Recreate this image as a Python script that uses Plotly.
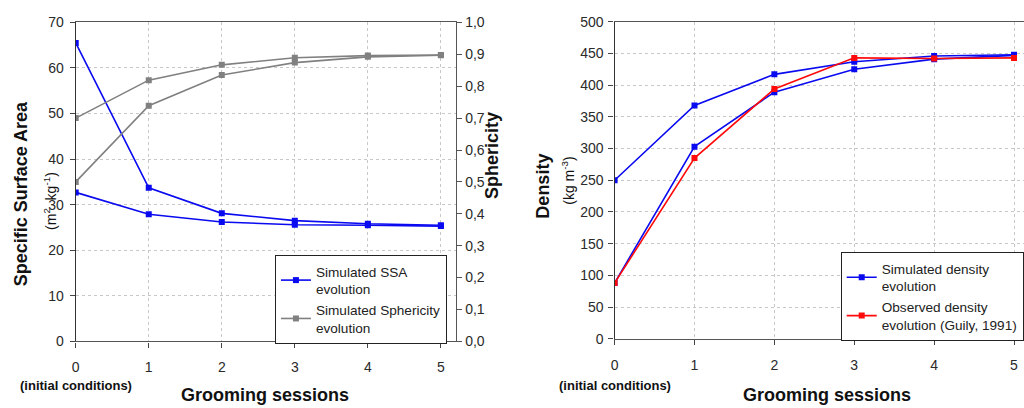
import plotly.graph_objects as go

sessions = [0, 1, 2, 3, 4, 5]

# Left chart
ssa_a = [65.5, 33.7, 28.1, 26.5, 25.8, 25.5]
ssa_b = [32.7, 27.9, 26.2, 25.6, 25.5, 25.3]
sph_a = [0.700, 0.819, 0.867, 0.889, 0.896, 0.898]
sph_b = [0.500, 0.739, 0.835, 0.874, 0.892, 0.897]

# Right chart
dens_sim_a = [250, 368, 417, 437, 446, 448]
dens_sim_b = [88, 303, 389, 425, 441, 447]
dens_obs = [88, 285, 394, 443, 442, 443]

ssa_ticks = [0, 10, 20, 30, 40, 50, 60, 70]
sph_ticks = [0.0, 0.1, 0.2, 0.3, 0.4, 0.5, 0.6, 0.7, 0.8, 0.9, 1.0]
dens_ticks = [0, 50, 100, 150, 200, 250, 300, 350, 400, 450, 500]

BLUE = "#0a0af0"
GRAY = "#808080"
RED = "#ff0a0a"
FONT = "Liberation Sans"
W, H = 1024, 408

fig = go.Figure()

def line(x, y, color, name, xa, ya, legend, show, rank):
    fig.add_trace(go.Scatter(
        x=x, y=y, mode="lines+markers", name=name,
        line=dict(color=color, width=1.6),
        marker=dict(symbol="square", size=6, color=color),
        xaxis=xa, yaxis=ya, legend=legend, showlegend=show, legendrank=rank))

line(sessions, sph_a, GRAY, "Simulated Sphericity<br>evolution", "x", "y2", "legend", True, 2)
line(sessions, sph_b, GRAY, "sph_b", "x", "y2", "legend", False, 3)
line(sessions, ssa_a, BLUE, "Simulated SSA<br>evolution", "x", "y", "legend", True, 1)
line(sessions, ssa_b, BLUE, "ssa_b", "x", "y", "legend", False, 4)

line(sessions, dens_sim_a, BLUE, "Simulated density<br>evolution", "x2", "y3", "legend2", True, 1)
line(sessions, dens_sim_b, BLUE, "dens_b", "x2", "y3", "legend2", False, 3)
line(sessions, dens_obs, RED, "Observed density<br>evolution (Guily, 1991)", "x2", "y3", "legend2", True, 2)

tickfont = dict(family=FONT, size=14, color="#2a2a2a")
grid = dict(showgrid=True, gridcolor="#c8c8c8", griddash="dot", gridwidth=1)

xcommon = dict(tickvals=sessions, ticks="outside", ticklen=5, tickcolor="#444",
               showline=True, linecolor="#555", linewidth=1.3, mirror=True,
               tickfont=tickfont, zeroline=False, ticklabelstandoff=8, **grid)

dom_left = [72 / W, 454 / W]
dom_right = [613 / W, 1.0]
ydom_left = [1 - 347 / H, 1 - 15 / H]
ydom_right = [1 - 344.3 / H, 1 - 14.3 / H]

legfont = dict(family=FONT, size=13.6, color="#222")

fig.update_layout(
    width=W, height=H,
    margin=dict(l=0, r=0, t=0, b=0),
    paper_bgcolor="white", plot_bgcolor="white",
    separators=", ",
    font=dict(family=FONT, size=13, color="#222"),
    xaxis=dict(domain=dom_left, range=[0, 5.21], anchor="y", **xcommon),
    yaxis=dict(domain=ydom_left, range=[0, 70], tickvals=ssa_ticks, ticks="outside",
               ticklen=5, tickcolor="#444", showline=True, linecolor="#333", linewidth=1.3,
               tickfont=tickfont, zeroline=False, anchor="x", ticklabelstandoff=3, **grid),
    yaxis2=dict(domain=ydom_left, range=[0, 1.0], tickvals=sph_ticks, tickformat=".1f",
                overlaying="y", side="right", anchor="x", ticks="outside", ticklen=5,
                tickcolor="#555", showline=True, linecolor="#555", linewidth=1.3,
                tickfont=tickfont, showgrid=False, zeroline=False),
    xaxis2=dict(domain=dom_right, range=[0, 5.125], anchor="y3", **xcommon),
    yaxis3=dict(domain=ydom_right, range=[0, 500], tickvals=dens_ticks, ticks="outside",
                ticklen=5, tickcolor="#444", showline=True, linecolor="#333", linewidth=1.3,
                tickfont=tickfont, zeroline=False, anchor="x2", ticklabelstandoff=2, **grid),
    legend=dict(x=272 / W, y=1 - 257 / H, xanchor="left", yanchor="top",
                bgcolor="white", bordercolor="#222", borderwidth=1,
                font=legfont, itemwidth=30, traceorder="normal"),
    legend2=dict(x=840 / W, y=1 - 254 / H, xanchor="left", yanchor="top",
                 bgcolor="white", bordercolor="#222", borderwidth=1,
                 font=legfont, itemwidth=30, traceorder="normal"),
    showlegend=True,
)

def ann(text, x, y, size, bold=True, angle=0):
    fig.add_annotation(text=f"<b>{text}</b>" if bold else text, x=x / W, y=1 - y / H,
                       xref="paper", yref="paper", showarrow=False, textangle=angle,
                       xanchor="center", yanchor="middle",
                       font=dict(family=FONT, size=size, color="#111"))

ann("Specific Surface Area", 18, 193, 18, True, -90)
ann("(m<sup>2</sup>&nbsp;&nbsp;kg<sup>-1</sup>)", 46, 201, 14, False, -90)
ann("Sphericity", 490, 154, 18, True, -90)
ann("Density", 541, 185, 18, True, -90)
ann("(kg m<sup>-3</sup>)", 566, 180, 14, False, -90)
ann("(initial conditions)", 72, 393, 13, True)
ann("Grooming sessions", 262, 403, 18, True)
ann("(initial conditions)", 613, 393, 13, True)
ann("Grooming sessions", 826, 403, 18, True)

fig.write_html("out.html")
